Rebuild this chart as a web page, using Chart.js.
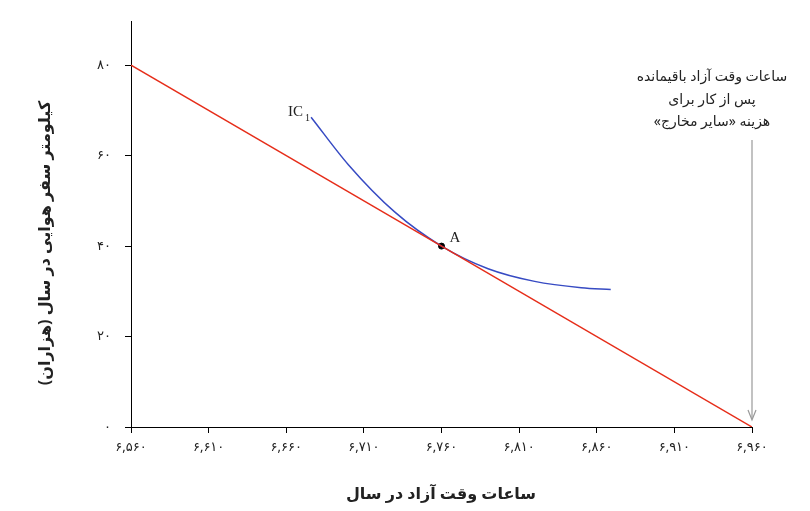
<!DOCTYPE html>
<html><head><meta charset="utf-8">
<script src="https://cdn.jsdelivr.net/npm/chart.js@4/dist/chart.umd.min.js"></script>
<style>body{margin:0;background:#fff}#w{width:810px;height:511px}</style>
</head><body><div id="w"><canvas id="c"></canvas></div>
<script>
var xTicks = [6560, 6610, 6660, 6710, 6760, 6810, 6860, 6910, 6960];
var yTicks = [0, 20, 40, 60, 80];
var budgetX = [6560, 6960];
var budgetY = [80, 0];
var icX = [6676, 6700, 6730, 6760, 6790, 6820, 6850, 6869];
var icY = [68.5, 58, 47.5, 40, 35, 32.2, 30.8, 30.4];
var pointA = [6760, 40];

function fa(n) {
    var s = n.toString();
    if (s.length > 3) s = s.slice(0, s.length - 3) + ',' + s.slice(s.length - 3);
    return s.replace(/[0-9]/g, function(d) { return '۰۱۲۳۴۵۶۷۸۹'[d]; });
}
function pts(xs, ys) { return xs.map(function(x, i) { return {x: x, y: ys[i]}; }); }

var FONT = '"Noto Sans", "DejaVu Sans", sans-serif';

var labels = {
    id: 'labels',
    afterDraw: function(chart) {
        var c = chart.ctx, xs = chart.scales.x, ys = chart.scales.y;
        c.save();
        // arrow
        var ax = xs.getPixelForValue(6960);
        c.strokeStyle = '#999'; c.fillStyle = '#999'; c.lineWidth = 1.2;
        c.beginPath(); c.moveTo(ax, 140); c.lineTo(ax, 418); c.stroke();
        c.beginPath(); c.moveTo(ax - 4, 410); c.lineTo(ax, 420); c.lineTo(ax + 4, 410); c.stroke();
        c.fillStyle = '#222';
        c.direction = 'rtl';
        c.font = '14px ' + FONT; c.textAlign = 'center'; c.textBaseline = 'middle';
        c.fillText('ساعات وقت آزاد باقیمانده', 712, 77);
        c.fillText('پس از کار برای', 712, 100);
        c.fillText('هزینه «سایر مخارج»', 712, 122);
        c.font = 'bold 16px ' + FONT;
        c.fillText('ساعات وقت آزاد در سال', 441, 494);
        c.save();
        c.translate(45, 243); c.rotate(-Math.PI / 2);
        c.fillText('کیلومتر سفر هوایی در سال (هزاران)', 0, 0);
        c.restore();
        // IC1 and A
        c.direction = 'ltr';
        c.font = '15px "Liberation Serif", serif'; c.textAlign = 'left';
        c.fillText('IC', 288, 112);
        c.font = '10px "Liberation Serif", serif';
        c.fillText('1', 305, 118);
        c.font = '15px "Liberation Serif", serif';
        c.fillText('A', xs.getPixelForValue(pointA[0]) + 8, ys.getPixelForValue(pointA[1]) - 8);
        c.restore();
    }
};

new Chart(document.getElementById('c'), {
    type: 'scatter',
    data: {
        datasets: [
            {data: pts(budgetX, budgetY), showLine: true, borderColor: 'rgb(230,45,25)', borderWidth: 1.5, pointRadius: 0},
            {data: pts(icX, icY), showLine: true, borderColor: 'rgb(55,75,195)', borderWidth: 1.5, pointRadius: 0, cubicInterpolationMode: 'monotone'},
            {data: [{x: pointA[0], y: pointA[1]}], backgroundColor: '#000', borderColor: '#000', pointRadius: 3}
        ]
    },
    options: {
        responsive: true, maintainAspectRatio: false, animation: false,
        layout: {padding: {top: 5, right: 58, left: 0, bottom: 0}},
        plugins: {legend: {display: false}, tooltip: {enabled: false}},
        scales: {
            x: {
                type: 'linear', min: 6560, max: 6960,
                afterBuildTicks: function(s) { s.ticks = xTicks.map(function(v) { return {value: v}; }); },
                afterFit: function(s) { s.height = 84; },
                border: {color: '#000', width: 1},
                grid: {drawOnChartArea: false, color: '#000', tickLength: 6},
                ticks: {color: '#222', font: {size: 13, family: FONT}, padding: 6, maxRotation: 0, callback: function(v) { return fa(v); }}
            },
            y: {
                type: 'linear', min: 0, max: 89.6,
                afterBuildTicks: function(s) { s.ticks = yTicks.map(function(v) { return {value: v}; }); },
                afterFit: function(s) { s.width = 131; },
                border: {color: '#000', width: 1},
                grid: {drawOnChartArea: false, color: '#000', tickLength: 6},
                ticks: {color: '#222', font: {size: 13, family: FONT}, padding: 14, callback: function(v) { return fa(v); }}
            }
        }
    },
    plugins: [labels]
});
</script></body></html>
